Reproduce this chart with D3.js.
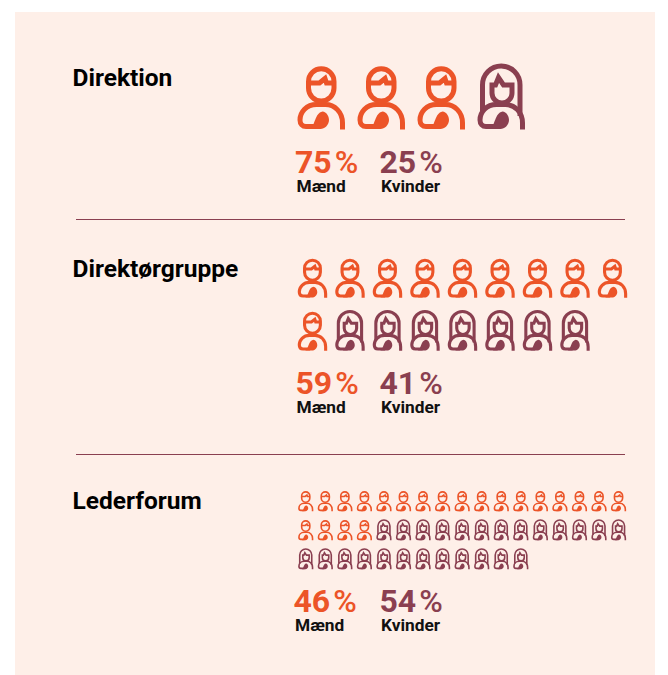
<!DOCTYPE html>
<html lang="da">
<head>
  <meta charset="UTF-8">
  <title>Kønsfordeling</title>
  <style>
    html, body { margin: 0; padding: 0; background: #fff; }
    svg { display: block; font-family: Roboto, sans-serif; }
  </style>
</head>
<body>
  <svg id="chart" width="668" height="675"></svg>
  <script src="https://d3js.org/d3.v7.min.js"></script>
  <script>
    const groups = ["Direktion", "Direktørgruppe", "Lederforum"];
    const menCounts = [3, 10, 21];
    const womenCounts = [1, 7, 25];
    const menPct = [75, 59, 46];
    const womenPct = [25, 41, 54];
    const menLabel = "Mænd";
    const womenLabel = "Kvinder";

    const orange = "#ec5428";
    const maroon = "#8a3f50";

    // layout per group
    const layout = [
      { titleY: 86, x0: 295.5, top: 66, size: 50, pitchX: 60, pitchY: 0, perRow: 4, pctY: 173, labelY: 191.5, menX: 295, womenX: 379.5, labelMenX: 296.5 },
      { titleY: 277, x0: 296.5, top: 258.5, size: 31, pitchX: 37.5, pitchY: 53, perRow: 9, pctY: 394, labelY: 412.5, menX: 295.5, womenX: 379.5, labelMenX: 296.5 },
      { titleY: 509, x0: 297.5, top: 491, size: 16, pitchX: 19.55, pitchY: 29, perRow: 17, pctY: 612, labelY: 631, menX: 293.5, womenX: 379.5, labelMenX: 295 }
    ];
    const ruleYs = [219.5, 454.5];

    const svg = d3.select("#chart");

    svg.append("rect")
      .attr("x", 15).attr("y", 12)
      .attr("width", 640).attr("height", 663)
      .attr("fill", "#feefe8");

    // icons live in a 50 x 64 box
    const manPath = "M13 15.5 A12.75 12.75 0 0 1 38.5 15.5 V22 A12.75 13 0 0 1 13 22 Z M13 17 H24 L29.5 12.5 L31 17 H38.5";
    const womanPath = "M16.5 19 H20 L23 11.5 L28 19 H36.5 V27 A10 10 0 0 1 16.5 27 Z M7 46 V19 A18.75 19 0 0 1 44.5 19 V50";
    const bodyPath = "M47 63.5 V57 C47 46 39 38.5 30 38.5 H21 C11 38.5 4.5 46 4.5 54 C4.5 58 7 60.5 10.5 60.5 H22";
    const bellyPath = "M14 63 C20 60 19 47 27 45.5 C31 46 33.5 50 33.5 54 C33.5 59 29 63 25 63 Z";

    function drawIcon(g, type, color, size) {
      const k = size / 50;
      const icon = g.append("g")
        .attr("transform", "scale(" + k + ")")
        .attr("fill", "none")
        .attr("stroke", color)
        .attr("stroke-width", 5);
      icon.append("path").attr("d", type === "man" ? manPath : womanPath);
      icon.append("path").attr("d", bodyPath);
      icon.append("path").attr("d", bellyPath).attr("fill", color).attr("stroke", "none");
    }

    groups.forEach(function (name, i) {
      const l = layout[i];
      const icons = d3.range(menCounts[i]).map(() => "man")
        .concat(d3.range(womenCounts[i]).map(() => "woman"));

      const x = d3.scaleLinear().domain([0, 1]).range([l.x0, l.x0 + l.pitchX]);
      const y = d3.scaleLinear().domain([0, 1]).range([l.top, l.top + l.pitchY]);

      svg.append("text")
        .attr("x", 72.5).attr("y", l.titleY)
        .attr("font-size", 24.5).attr("font-weight", 700).attr("fill", "#000")
        .text(name);

      icons.forEach(function (type, n) {
        const g = svg.append("g")
          .attr("transform", "translate(" + x(n % l.perRow) + "," + y(Math.floor(n / l.perRow)) + ")");
        drawIcon(g, type, type === "man" ? orange : maroon, l.size);
      });

      [[l.menX, menPct[i], orange, l.labelMenX, menLabel],
       [l.womenX, womenPct[i], maroon, l.womenX + 1.5, womenLabel]].forEach(function (d) {
        const t = svg.append("text")
          .attr("x", d[0]).attr("y", l.pctY)
          .attr("fill", d[2]).attr("font-size", 32);
        t.append("tspan").attr("font-weight", 700).text(d[1]);
        t.append("tspan").attr("dx", 3).attr("font-weight", 500).text("%");
        svg.append("text")
          .attr("x", d[3]).attr("y", l.labelY)
          .attr("font-size", 17.3).attr("font-weight", 700).attr("fill", "#111")
          .text(d[4]);
      });
    });

    ruleYs.forEach(function (y) {
      svg.append("line")
        .attr("x1", 76).attr("x2", 625)
        .attr("y1", y).attr("y2", y)
        .attr("stroke", maroon).attr("stroke-width", 1);
    });
  </script>
</body>
</html>
